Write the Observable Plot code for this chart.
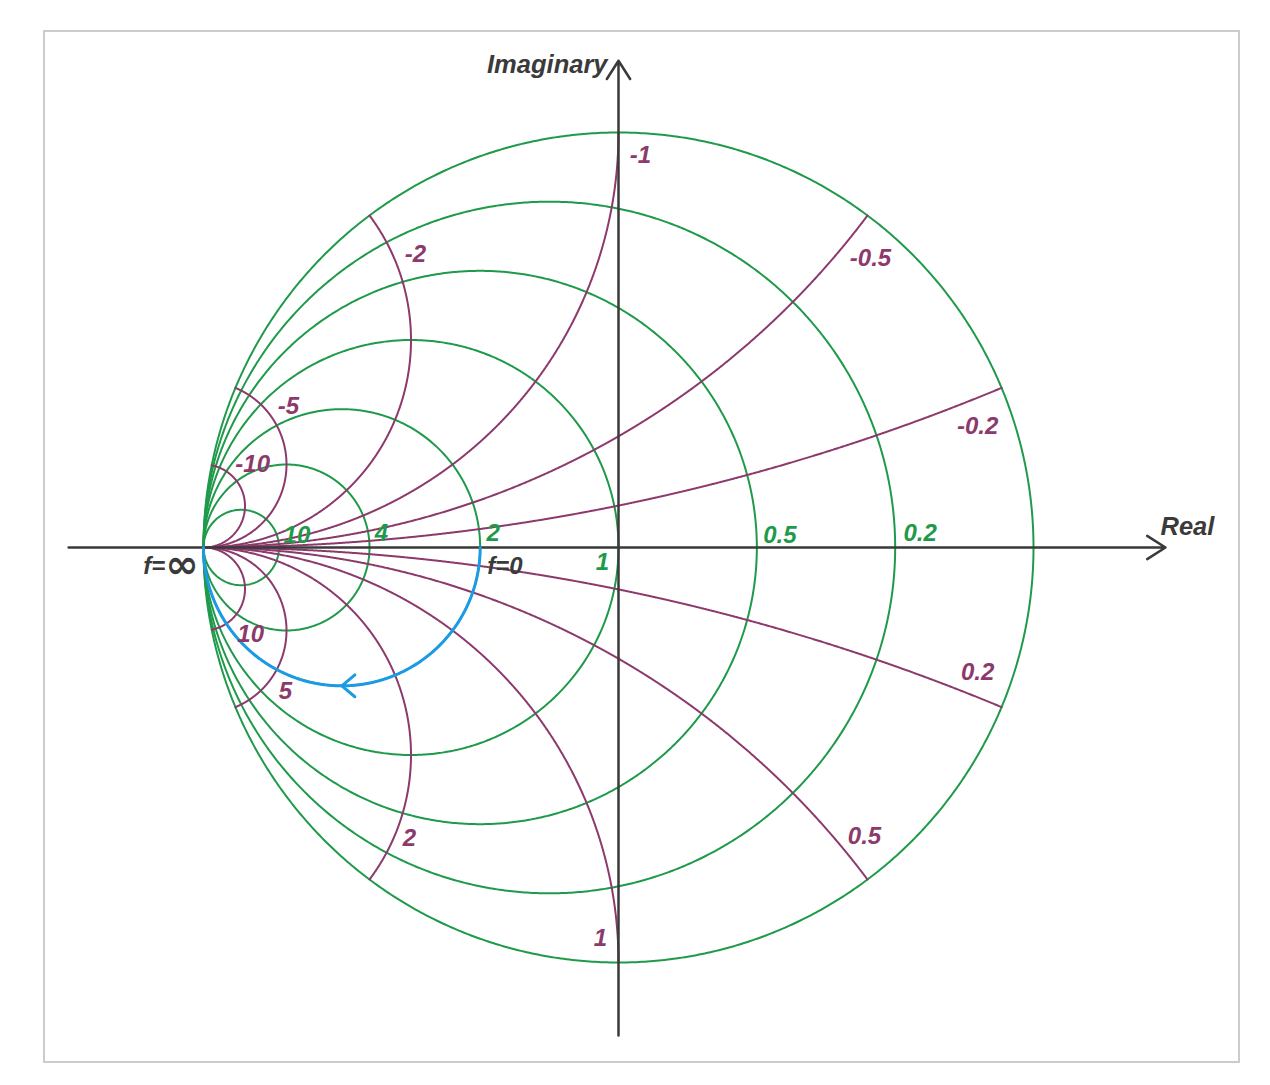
<!DOCTYPE html>
<html><head><meta charset="utf-8">
<script src="https://cdn.jsdelivr.net/npm/d3@7"></script>
<script src="https://cdn.jsdelivr.net/npm/@observablehq/plot@0.6"></script>
<style>
body{margin:0;background:#fff;}
#wrap{position:relative;width:1270px;height:1085px;}
#frame{position:absolute;left:43px;top:30px;width:1193px;height:1029px;border:2px solid #cccccc;pointer-events:none;}
#chart{position:absolute;left:0;top:0;}
</style></head><body>
<div id="wrap"><div id="chart"></div><div id="frame"></div></div>
<script>
// ---- data ----
const conductance = [0, 0.2, 0.5, 1, 2, 4, 10];
const conductanceLabelValues = [0.2, 0.5, 1, 2, 4, 10];
const conductanceLabelText = ["0.2", "0.5", "1", "2", "4", "10"];
const susceptance = [-10, -5, -2, -1, -0.5, -0.2, 0.2, 0.5, 1, 2, 5, 10];
const susceptanceLabelText = ["-10", "-5", "-2", "-1", "-0.5", "-0.2", "0.2", "0.5", "1", "2", "5", "10"];
const sweepConductance = 2;      // blue frequency sweep along g = 2
const sweepArrowSusceptance = 3; // arrow position on the sweep
const realAxisExtent = [-1.325, 1.318];
const imagAxisExtent = [-1.176, 1.173];
const axisTitles = ["Real", "Imaginary"];
const freqLabels = ["f=\u221E", "f=0"];

// ---- styles / layout ----
const W = 1270, H = 1085, CX = 618, CY = 547, R = 415;
const GREEN = "#1f9a4a", PURPLE = "#8c3a6c", BLUE = "#1c9be4", BLACK = "#3a3a3a";
const font = {fontFamily: "Liberation Sans, Arial, sans-serif", fontWeight: "bold", fontStyle: "italic", fontSize: 24};
const condLabelOffset = {"0.2": [25, -14], "0.5": [23, -12], "1": [-16, 15], "2": [13, -14], "4": [12, -14], "10": [18, -12]};
const suscLabelOffset = {"-10": [41, -1], "-5": [53, 18], "-2": [46, 39], "-1": [22, 23], "-0.5": [3, 43], "-0.2": [-24, 38],
  "0.2": [-24, -35], "0.5": [-3, -43], "1": [-18, -24], "2": [40, -41], "5": [50, -16], "10": [39, 5]};
const arrowArm = 17, arrowHalfAngle = 40; // px, degrees

// reflection coefficient for normalized admittance g + jb : (1 - y)/(1 + y)
function gamma(g, b) {
  if (!isFinite(g) || !isFinite(b)) return {u: -1, v: 0};
  const d = (1 + g) * (1 + g) + b * b;
  return {u: (1 - g * g - b * b) / d, v: -2 * b / d};
}

const N = 900;
const condCurves = [];
conductance.forEach((g, i) => {
  condCurves.push({...gamma(g, -Infinity), id: i});
  for (let k = 1; k < N; k++) {
    const t = -Math.PI / 2 + Math.PI * k / N;
    condCurves.push({...gamma(g, Math.tan(t)), id: i});
  }
  condCurves.push({...gamma(g, Infinity), id: i});
});
const suscCurves = [];
susceptance.forEach((b, i) => {
  for (let k = 0; k < N; k++) {
    const p = (Math.PI / 2) * k / N;
    suscCurves.push({...gamma(Math.tan(p), b), id: i});
  }
  suscCurves.push({...gamma(Infinity, b), id: i});
});
const sweep = [];
for (let k = 0; k < N; k++) {
  const t = (Math.PI / 2) * k / N;
  sweep.push(gamma(sweepConductance, Math.tan(t)));
}
sweep.push(gamma(sweepConductance, Infinity));

// chevron on the sweep, pointing in the direction of increasing frequency
const tip = gamma(sweepConductance, sweepArrowSusceptance);
const ahead = gamma(sweepConductance, sweepArrowSusceptance + 0.01);
const behind = gamma(sweepConductance, sweepArrowSusceptance - 0.01);
let bx = behind.u - ahead.u, by = behind.v - ahead.v;
const bl = Math.hypot(bx, by); bx /= bl; by /= bl;
const a = arrowHalfAngle * Math.PI / 180, L = arrowArm / R;
const chevron = [
  {u: tip.u + L * (bx * Math.cos(a) - by * Math.sin(a)), v: tip.v + L * (bx * Math.sin(a) + by * Math.cos(a))},
  tip,
  {u: tip.u + L * (bx * Math.cos(-a) - by * Math.sin(-a)), v: tip.v + L * (bx * Math.sin(-a) + by * Math.cos(-a))}
];

function label(p, text, off, color, anchor = "middle", size = 24) {
  return Plot.text([p], {x: "u", y: "v", text: [text], dx: off[0], dy: off[1], fill: color, textAnchor: anchor, ...font, fontSize: size});
}

const marks = [
  Plot.line(condCurves, {x: "u", y: "v", z: "id", stroke: GREEN, strokeWidth: 2}),
  Plot.line(suscCurves, {x: "u", y: "v", z: "id", stroke: PURPLE, strokeWidth: 2}),
  Plot.arrow([{x1: realAxisExtent[0], x2: realAxisExtent[1], y1: 0, y2: 0}],
    {x1: "x1", x2: "x2", y1: "y1", y2: "y2", stroke: BLACK, strokeWidth: 2.5, headLength: 13, headAngle: 65}),
  Plot.arrow([{x1: 0, x2: 0, y1: imagAxisExtent[0], y2: imagAxisExtent[1]}],
    {x1: "x1", x2: "x2", y1: "y1", y2: "y2", stroke: BLACK, strokeWidth: 2.5, headLength: 13, headAngle: 65}),
  Plot.line(sweep, {x: "u", y: "v", stroke: BLUE, strokeWidth: 3}),
  Plot.line(chevron, {x: "u", y: "v", stroke: BLUE, strokeWidth: 3})
];
conductanceLabelValues.forEach((g, i) => {
  const t = conductanceLabelText[i];
  marks.push(label(gamma(g, 0), t, condLabelOffset[t], GREEN));
});
susceptance.forEach((b, i) => {
  const t = susceptanceLabelText[i];
  marks.push(label(gamma(0, b), t, suscLabelOffset[t], PURPLE));
});
marks.push(label({u: realAxisExtent[1], v: 0}, axisTitles[0], [-5, -21], BLACK, "start", 25.5));
marks.push(label({u: 0, v: imagAxisExtent[1]}, axisTitles[1], [-11, 4], BLACK, "end", 25.5));
marks.push(label(gamma(Infinity, 0), freqLabels[0], [-5, 19], BLACK, "end"));
marks.push(label(gamma(sweepConductance, 0), freqLabels[1], [7, 19], BLACK, "start"));

const chart = Plot.plot({
  width: W, height: H, margin: 0,
  x: {domain: [-CX / R, (W - CX) / R], range: [0, W], axis: null},
  y: {domain: [-(H - CY) / R, CY / R], range: [H, 0], axis: null},
  marks
});
document.getElementById("chart").appendChild(chart);

// enlarge the infinity sign inside its label (same text element)
d3.select(chart).selectAll("text").each(function () {
  const el = d3.select(this);
  if (el.text() === freqLabels[0]) {
    el.text("");
    el.append("tspan").text("f=");
    el.append("tspan").attr("font-size", 40).attr("font-family", "DejaVu Sans")
      .attr("font-style", "normal").attr("dy", 4).text("\u221E");
  }
});
</script>
</body></html>
